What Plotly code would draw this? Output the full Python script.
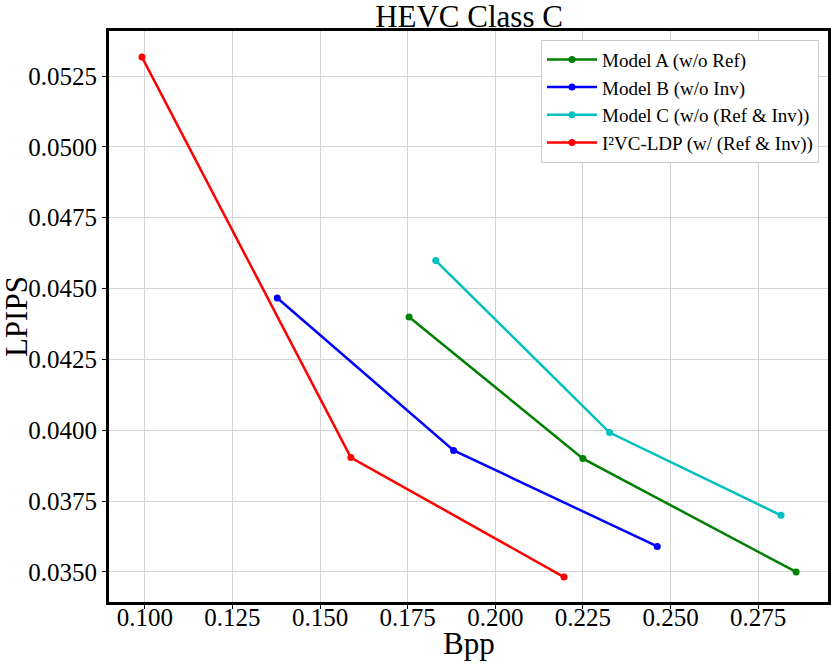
"""
HEVC Class C - LPIPS vs Bpp rate-distortion curves (ablation).
"""

import plotly.graph_objects as go

# Bpp / LPIPS
model_a_bpp = [0.1754, 0.2250, 0.2858]
model_a_lpips = [0.04400, 0.03900, 0.03500]

model_b_bpp = [0.1378, 0.1881, 0.2462]
model_b_lpips = [0.04467, 0.03929, 0.03590]

model_c_bpp = [0.1830, 0.2326, 0.2815]
model_c_lpips = [0.04599, 0.03992, 0.03700]

i2vc_bpp = [0.0992, 0.1588, 0.2196]
i2vc_lpips = [0.05317, 0.03904, 0.03482]

series_names = [
    'Model A (w/o Ref)',
    'Model B (w/o Inv)',
    'Model C (w/o (Ref & Inv))',
    'I²VC-LDP (w/ (Ref & Inv))',
]
series_colors = ['#008000', '#0000ff', '#00bfbf', '#ff0000']

x_ticks = [0.100, 0.125, 0.150, 0.175, 0.200, 0.225, 0.250, 0.275]
y_ticks = [0.0350, 0.0375, 0.0400, 0.0425, 0.0450, 0.0475, 0.0500, 0.0525]

FONT = 'Liberation Serif, Times New Roman, serif'

fig = go.Figure()

all_x = [model_a_bpp, model_b_bpp, model_c_bpp, i2vc_bpp]
all_y = [model_a_lpips, model_b_lpips, model_c_lpips, i2vc_lpips]

for xs, ys, name, color in zip(all_x, all_y, series_names, series_colors):
    fig.add_trace(go.Scatter(
        x=xs, y=ys, name=name, mode='lines+markers',
        line=dict(color=color, width=2.5),
        marker=dict(color=color, size=7),
    ))

axis_common = dict(
    showline=True, linecolor='black', linewidth=3, mirror=True,
    showgrid=True, gridcolor='#d3d3d3', gridwidth=1,
    ticks='outside', ticklen=4, tickwidth=1, tickcolor='black',
    tickfont=dict(family=FONT, size=25, color='black'),
    zeroline=False, automargin=False,
)

fig.update_xaxes(
    range=[0.0898, 0.2949], tickvals=x_ticks, tickformat='.3f',
    ticklabelstandoff=-13,
    **axis_common,
)
fig.update_yaxes(
    range=[0.03394, 0.05409], tickvals=y_ticks, tickformat='.4f',
    **axis_common,
)

# axis titles placed as text so they sit where the reference has them
fig.add_annotation(text='Bpp', xref='paper', yref='paper', x=0.5, y=-0.0730,
                   xanchor='center', yanchor='middle', showarrow=False,
                   font=dict(family=FONT, size=31, color='black'))
fig.add_annotation(text='LPIPS', xref='paper', yref='paper', x=-0.1285, y=0.5,
                   xanchor='center', yanchor='middle', textangle=-90, showarrow=False,
                   font=dict(family=FONT, size=31, color='black'))

fig.update_layout(
    width=831, height=665,
    margin=dict(l=109, r=3, t=31, b=63),
    plot_bgcolor='white', paper_bgcolor='white',
    title=dict(text='HEVC Class C', x=0.5644, xanchor='center',
               y=0.975, yanchor='middle',
               font=dict(family=FONT, size=31, color='black')),
    font=dict(family=FONT, color='black'),
    legend=dict(
        x=0.9875, xanchor='right', y=0.985, yanchor='top',
        bgcolor='white', bordercolor='#cccccc', borderwidth=1,
        itemwidth=50,
        font=dict(family=FONT, size=19, color='black'),
    ),
)

# the page body keeps its default 8px margin otherwise
fig.write_html('out.html', config={'displayModeBar': False},
               post_script="document.body.style.margin='0';")
